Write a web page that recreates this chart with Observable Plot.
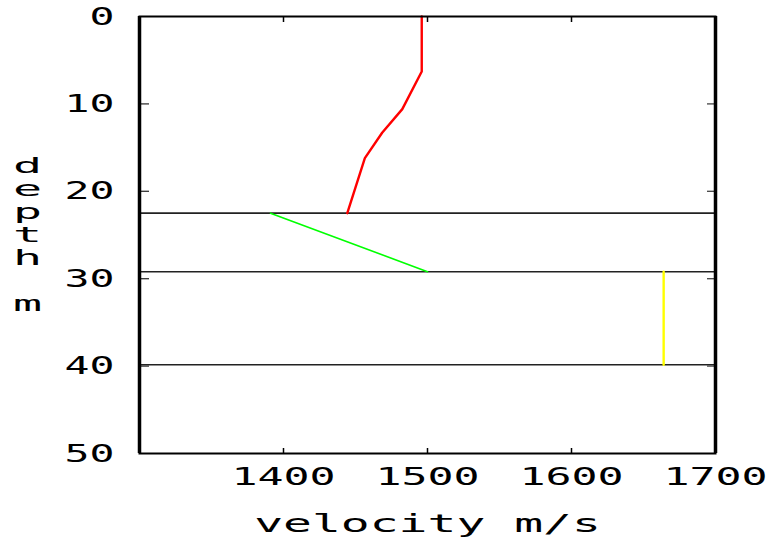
<!DOCTYPE html>
<html>
<head>
<meta charset="utf-8">
<script src="https://cdn.jsdelivr.net/npm/d3@7"></script>
<script src="https://cdn.jsdelivr.net/npm/@observablehq/plot@0.6"></script>
<style>
  html, body { margin: 0; padding: 0; background: #fff; }
  #chart svg { display: block; }
</style>
</head>
<body>
<div id="chart"></div>
<script>
// ---- data ----
const xDomain = [1300, 1700];
const yDomain = [0, 50];
const xTickLabels = [1400, 1500, 1600, 1700];
const xInnerTicks = [1400, 1500, 1600];
const yTickLabels = [0, 10, 20, 30, 40, 50];
const yInnerTicks = [10, 20, 30, 40];

const redDepth = [0, 6.3, 10.6, 13.3, 16.2, 22.5];
const redVelocity = [1496, 1496, 1482.5, 1468.5, 1456.5, 1444.3];

const greenDepth = [22.5, 29.2];
const greenVelocity = [1391, 1500];

const yellowDepth = [29.2, 39.85];
const yellowVelocity = [1664, 1664];

const layerDepths = [22.5, 29.2, 39.85];

const xLabel = "velocity m/s";
const yLabel = "depth m";

const toRows = (vs, ds) => vs.map((v, i) => ({v, d: ds[i]}));

const font = "DejaVu Sans Mono";

const chart = Plot.plot({
  width: 775,
  height: 537,
  marginLeft: 139,
  marginRight: 60,
  marginTop: 16,
  marginBottom: 84,
  style: {fontFamily: font, background: "#fff", color: "#000"},
  x: {domain: xDomain},
  y: {domain: yDomain, reverse: true},
  marks: [
    // layer boundaries
    Plot.ruleY(layerDepths, {stroke: "#222", strokeWidth: 1.6}),
    // profiles
    Plot.line(toRows(redVelocity, redDepth), {x: "v", y: "d", stroke: "#ff0000", strokeWidth: 2.4}),
    Plot.line(toRows(greenVelocity, greenDepth), {x: "v", y: "d", stroke: "#00ff00", strokeWidth: 1.6}),
    Plot.line(toRows(yellowVelocity, yellowDepth), {x: "v", y: "d", stroke: "#ffff00", strokeWidth: 2.4}),
    // inward ticks
    Plot.axisX({anchor: "bottom", ticks: xInnerTicks, tickSize: -5, text: null, label: null, stroke: "#000", strokeWidth: 1.5}),
    Plot.axisX({anchor: "top", ticks: xInnerTicks, tickSize: -5, text: null, label: null, stroke: "#000", strokeWidth: 1.5}),
    Plot.axisY({anchor: "left", ticks: yInnerTicks, tickSize: -10, text: null, label: null, stroke: "#333", strokeWidth: 1.3}),
    Plot.axisY({anchor: "right", ticks: yInnerTicks, tickSize: -9, text: null, label: null, stroke: "#444", strokeWidth: 1.3}),
    // tick labels
    Plot.axisX({anchor: "bottom", ticks: xTickLabels, tickSize: 0, tickPadding: 14, label: null, fontSize: 25, tickFormat: d => String(d)}),
    Plot.axisY({anchor: "left", ticks: yTickLabels, tickSize: 0, tickPadding: 25, label: null, fontSize: 25, tickFormat: d => String(d)}),
    // frame
    Plot.frame({stroke: "#000", strokeWidth: 2}),
    Plot.ruleX(xDomain, {stroke: "#000", strokeWidth: 3.5}),
    // axis titles
    Plot.text([xLabel], {frameAnchor: "bottom", lineAnchor: "bottom", dy: 78, fontSize: 24, fill: "#000"}),
    Plot.text([yLabel.split("").map(c => c === " " ? "\u00a0" : c).join("\n")], {
      frameAnchor: "left", lineAnchor: "middle", textAnchor: "middle", dx: -112, dy: 0,
      lineHeight: 23 / 21, fontSize: 21, fill: "#000"
    })
  ]
});

document.getElementById("chart").appendChild(chart);

const svg = d3.select(chart);
// widen glyphs about their anchor (tick labels: anchor is at local origin)
const stretchAtOrigin = (sel, k) => sel.each(function() {
  const t = this.getAttribute("transform") || "";
  this.setAttribute("transform", t + ` scale(${k},1)`);
});
// widen glyphs about their own centre (titles)
const stretchAtCentre = (sel, k) => sel.each(function() {
  const b = this.getBBox();
  const cx = b.x + b.width / 2;
  const t = this.getAttribute("transform") || "";
  this.setAttribute("transform", `${t} translate(${cx},0) scale(${k},1) translate(${-cx},0)`);
});
stretchAtOrigin(svg.selectAll('g[aria-label="x-axis tick label"] text'), 1.73);
stretchAtOrigin(svg.selectAll('g[aria-label="y-axis tick label"] text'), 1.66);
const titles = svg.selectAll('g[aria-label="text"] text');
stretchAtCentre(titles.filter((d, i) => i === 0), 2.0);
stretchAtCentre(titles.filter((d, i) => i === 1), 2.3);
</script>
</body>
</html>
